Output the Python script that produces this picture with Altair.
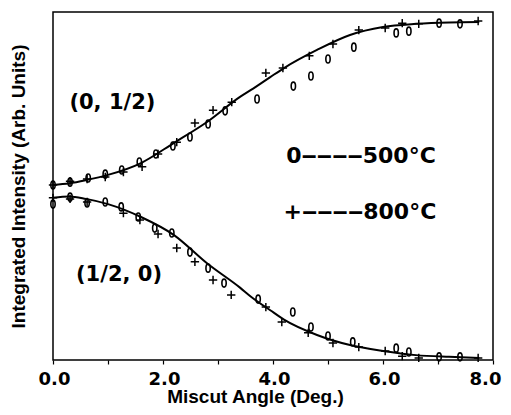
import altair as alt
import pandas as pd

# ---- data ----
curve_x = [0.0, 0.3, 0.6, 1.0, 1.6, 2.2, 2.8, 3.4, 3.6, 3.95, 4.2, 4.8, 5.4, 6.0, 6.6, 7.2, 7.75]
curve_upper = [50.3, 50.8, 51.7, 53.2, 56.6, 62.4, 68.4, 75.6, 77.6, 81.3, 83.9, 89.1, 93.4, 95.7, 96.6, 97.0, 97.1]
curve_lower = [46.6, 47.0, 46.3, 44.8, 41.1, 35.9, 27.8, 20.8, 18.2, 14.3, 11.6, 7.2, 4.3, 2.6, 1.4, 0.9, 0.6]

# (0, 1/2) branch
up500_x = [0.0, 0.31, 0.64, 0.95, 1.25, 1.57, 1.87, 2.18, 2.49, 2.82, 3.13, 3.71, 4.37, 4.69, 5.0, 5.47, 6.24, 6.47, 7.02, 7.4]
up500_y = [50.3, 51.1, 52.3, 53.4, 54.6, 56.9, 59.2, 61.5, 64.1, 67.8, 71.6, 75.0, 78.7, 81.6, 86.5, 89.9, 94.0, 94.5, 96.8, 96.6]
up800_x = [0.0, 0.31, 0.62, 0.95, 1.28, 1.62, 1.91, 2.25, 2.58, 2.91, 3.25, 3.87, 4.18, 4.66, 5.09, 5.56, 6.04, 6.35, 6.65, 7.73]
up800_y = [50.3, 51.4, 52.0, 52.6, 54.0, 55.5, 59.2, 62.6, 68.1, 71.8, 74.1, 82.5, 83.9, 87.4, 90.8, 94.8, 95.4, 96.8, 96.6, 97.4]

# (1/2, 0) branch
lo500_x = [0.0, 0.31, 0.62, 0.95, 1.24, 1.55, 1.85, 2.16, 2.49, 2.82, 3.11, 3.73, 4.36, 4.69, 5.0, 5.45, 6.24, 6.47, 7.02, 7.4]
lo500_y = [44.8, 46.8, 45.1, 45.4, 44.0, 41.1, 37.9, 36.5, 31.0, 26.4, 22.1, 17.5, 13.8, 9.5, 6.9, 5.2, 3.4, 2.3, 0.9, 0.9]
lo800_x = [0.0, 0.31, 0.62, 1.28, 1.58, 1.91, 2.25, 2.58, 2.91, 3.24, 3.87, 4.16, 4.64, 5.09, 5.56, 6.04, 6.35, 6.65, 7.73]
lo800_y = [46.6, 46.3, 45.4, 42.2, 40.2, 36.2, 32.2, 28.2, 23.0, 18.7, 15.2, 10.9, 7.8, 4.9, 3.7, 2.6, 1.1, 0.6, 0.6]

x_ticks = [0, 1, 2, 3, 4, 5, 6, 7, 8]

curves = pd.DataFrame({
    "x": curve_x + curve_x,
    "y": curve_upper + curve_lower,
    "branch": ["(0, 1/2)"] * len(curve_x) + ["(1/2, 0)"] * len(curve_x),
})
pts500 = pd.DataFrame({"x": up500_x + lo500_x, "y": up500_y + lo500_y})
pts800 = pd.DataFrame({"x": up800_x + lo800_x, "y": up800_y + lo800_y})

ELLIPSE = "M0,-1C0.72,-1 0.72,1 0,1C-0.72,1 -0.72,-1 0,-1Z"
PLUS = "M-1,0L1,0M0,-1L0,1"

xscale = alt.Scale(domain=[0, 8], nice=False, zero=False)
yscale = alt.Scale(domain=[0, 100], nice=False, zero=False)

xaxis = alt.Axis(
    values=x_ticks,
    labelExpr="datum.value % 2 == 0 ? format(datum.value, '.1f') : ''",
    grid=False, domain=False, tickColor="black", tickSize=4, tickWidth=1.2,
    labelFont="DejaVu Sans", labelFontWeight="bold", labelFontSize=18, labelColor="black",
    labelPadding=6, labelFlush=False,
    labelOffset={"condition": {"test": "datum.value == 8", "value": -8}, "value": 1},
    title="Miscut Angle (Deg.)", titleFont="Liberation Sans", titleFontWeight="bold",
    titleFontSize=19, titleColor="black", titleX=202, titleY=42,
    titleBaseline="alphabetic", titleAlign="center",
)
yaxis = alt.Axis(
    labels=False, ticks=False, grid=False, domain=False,
    title="Integrated Intensity (Arb. Units)", titleFont="Liberation Sans",
    titleFontWeight="bold", titleFontSize=19, titleColor="black",
    titleX=-35, titleY=174, titleAngle=270, titleBaseline="middle", titleAlign="center",
)

X = alt.X("x:Q", scale=xscale, axis=xaxis)
Y = alt.Y("y:Q", scale=yscale, axis=yaxis)

lines = alt.Chart(curves).mark_line(color="black", strokeWidth=2, interpolate="monotone").encode(
    x=X, y=Y, detail="branch:N"
)
m500 = alt.Chart(pts500).mark_point(shape=ELLIPSE, size=64, filled=False, color="black", strokeWidth=1.6, opacity=1).encode(
    x="x:Q", y="y:Q"
)
m800 = alt.Chart(pts800).mark_point(shape=PLUS, size=70, filled=False, color="black", strokeWidth=1.5, opacity=1).encode(
    x="x:Q", y="y:Q"
)

def label(txt, xv, yv, size):
    return alt.Chart(pd.DataFrame({"t": [txt]})).mark_text(
        font="DejaVu Sans", fontWeight="bold", fontSize=size, color="black",
        align="center", baseline="middle"
    ).encode(x=alt.datum(xv), y=alt.datum(yv), text="t:N")

texts = (
    label("(0, 1/2)", 1.08, 73.9, 21)
    + label("(1/2, 0)", 1.2, 24.4, 21)
    + label("0\u2012\u2012\u2012\u2012500\u00b0C", 5.6, 58.6, 22)
    + label("+\u2012\u2012\u2012\u2012800\u00b0C", 5.58, 42.5, 22)
)

chart = (lines + m500 + m800 + texts).properties(
    width=440, height=348,
    autosize=alt.AutoSizeParams(type="none"),
    padding={"left": 45, "top": 4, "right": 10, "bottom": 47},
    background="white",
).configure_view(stroke="black", strokeWidth=1.5)

chart.save("out.html", embed_options={"renderer": "svg", "actions": False})
